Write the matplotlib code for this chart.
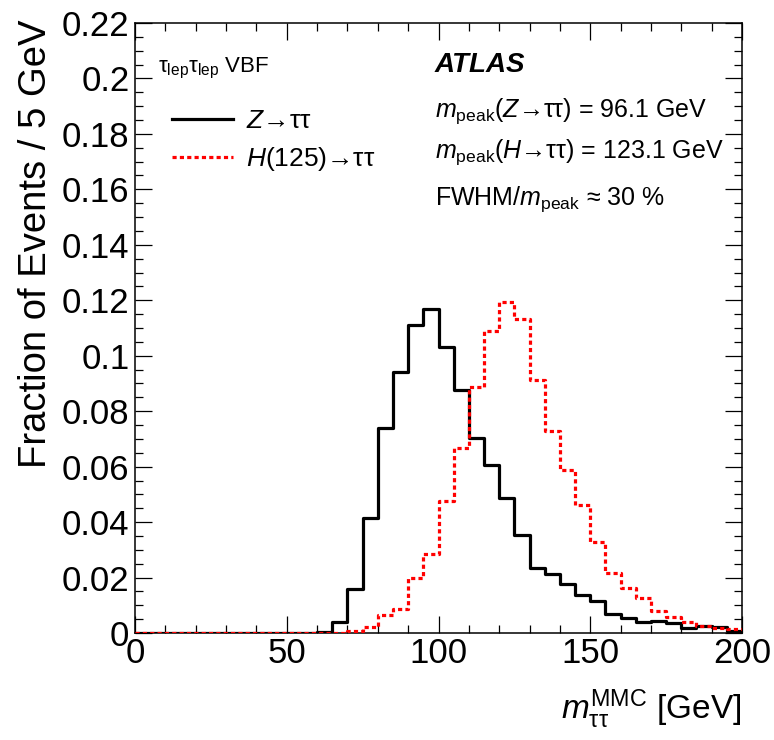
import numpy as np
import matplotlib
matplotlib.use("Agg")
import matplotlib.pyplot as plt
from matplotlib.ticker import MultipleLocator, FixedLocator, FixedFormatter

plt.rcParams['font.family'] = ['Liberation Sans', 'DejaVu Sans']
plt.rcParams['mathtext.fontset'] = 'custom'
plt.rcParams['mathtext.rm'] = 'Liberation Sans'
plt.rcParams['mathtext.it'] = 'Liberation Sans:italic'
plt.rcParams['mathtext.bf'] = 'Liberation Sans:bold'

# ---- data ----
bin_width = 5
x_min, x_max = 0, 200
z_tautau = [0.0] * 12 + [
    0.0005, 0.0038, 0.0157, 0.0415, 0.0739, 0.094, 0.111, 0.117,
    0.1033, 0.0877, 0.0703, 0.0607, 0.0487, 0.0352, 0.0235, 0.0211,
    0.0175, 0.0138, 0.0114, 0.0068, 0.0054, 0.0039, 0.0045, 0.0036,
    0.0018, 0.0027, 0.0022, 0.0008]
h_tautau = [0.0] * 14 + [
    0.0008, 0.0022, 0.0065, 0.0085, 0.0199, 0.0286, 0.0475, 0.0667,
    0.0889, 0.109, 0.1195, 0.1133, 0.0914, 0.0727, 0.0587, 0.0463,
    0.0328, 0.0217, 0.0162, 0.0126, 0.0078, 0.0057, 0.0039, 0.0024,
    0.0019, 0.0016]
y_ticks = [0, 0.02, 0.04, 0.06, 0.08, 0.1, 0.12, 0.14, 0.16, 0.18, 0.2, 0.22]
y_tick_labels = ["0", "0.02", "0.04", "0.06", "0.08", "0.1", "0.12",
                 "0.14", "0.16", "0.18", "0.2", "0.22"]
x_ticks = [0, 50, 100, 150, 200]
x_tick_labels = ["0", "50", "100", "150", "200"]

edges = np.arange(x_min, x_max + bin_width, bin_width)

W, H = 774, 740
fig = plt.figure(figsize=(W / 100, H / 100), dpi=100)
L, R, T, B = 135, 742, 23, 633
ax = fig.add_axes([L / W, 1 - B / H, (R - L) / W, (B - T) / H])

zv = np.array(z_tautau)
hv = np.array(h_tautau)
ax.step(edges, np.append(zv, zv[-1]), where='post', color='black', lw=2.3,
        label=r'$Z$→ττ', zorder=3)
ax.step(edges, np.append(hv, hv[-1]), where='post', color='#ff0000', lw=2.3,
        linestyle=(0, (1.3, 1.0)), dash_capstyle='butt',
        label=r'$H$(125)→ττ', zorder=4)

ax.set_xlim(x_min, x_max)
ax.set_ylim(0, 0.22)
ax.xaxis.set_major_locator(FixedLocator(x_ticks))
ax.xaxis.set_major_formatter(FixedFormatter(x_tick_labels))
ax.xaxis.set_minor_locator(MultipleLocator(10))
ax.yaxis.set_major_locator(FixedLocator(y_ticks))
ax.yaxis.set_major_formatter(FixedFormatter(y_tick_labels))
ax.yaxis.set_minor_locator(MultipleLocator(0.005))
ax.tick_params(which='both', direction='in', top=True, right=True, width=0.9)
ax.tick_params(which='major', length=12.5, labelsize=25)
ax.tick_params(axis='y', which='major', pad=4)
ax.tick_params(axis='x', which='major', pad=3)
ax.tick_params(which='minor', length=6)
for s in ax.spines.values():
    s.set_linewidth(1.1)

def axc(px, py):
    return ((px - L) / (R - L), (B - py) / (B - T))

leg = ax.legend(loc='upper left', bbox_to_anchor=axc(172, 109), frameon=False,
                fontsize=19, handlelength=2.3, handletextpad=0.5,
                labelspacing=0.45, borderpad=0, borderaxespad=0)

x, y = axc(158, 72)
ax.text(x, y, r'$\mathrm{τ_{lep}τ_{lep}}$ VBF', transform=ax.transAxes,
        fontsize=16, va='baseline', ha='left')
x, y = axc(435, 72)
ax.text(x, y, 'ATLAS', transform=ax.transAxes, fontsize=20,
        fontweight='bold', style='italic', va='baseline', ha='left')
x, y = axc(435, 117)
ax.text(x, y, r'$m_{\mathrm{peak}}$($Z$→ττ) = 96.1 GeV',
        transform=ax.transAxes, fontsize=18, va='baseline', ha='left')
x, y = axc(435, 158)
ax.text(x, y, r'$m_{\mathrm{peak}}$($H$→ττ) = 123.1 GeV',
        transform=ax.transAxes, fontsize=18, va='baseline', ha='left')
x, y = axc(435, 205)
ax.text(x, y, r'FWHM/$m_{\mathrm{peak}}$ ≈ 30 %',
        transform=ax.transAxes, fontsize=18, va='baseline', ha='left')

fig.text(741 / W, 1 - 719 / H, r'$m_{\mathrm{ττ}}^{\mathrm{MMC}}$ [GeV]',
         fontsize=24, ha='right', va='baseline')
fig.text(36 / W, 1 - 20 / H, 'Fraction of Events / 5 GeV', rotation=90,
         fontsize=27.5, ha='center', va='top')

fig.savefig('out.png', dpi=100)
